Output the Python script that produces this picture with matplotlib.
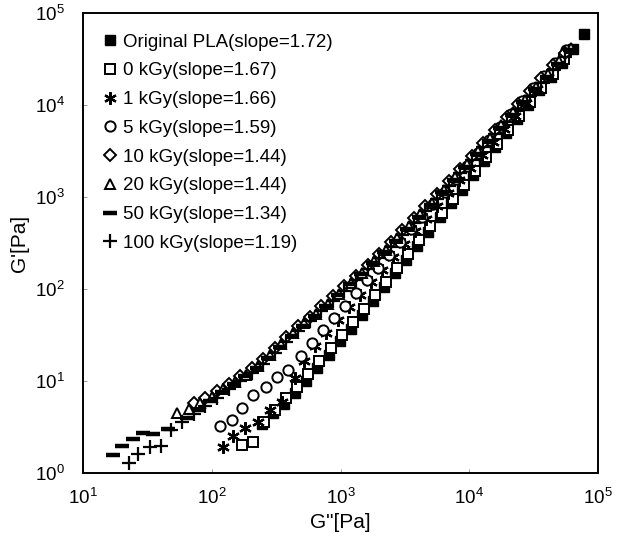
import matplotlib
matplotlib.use("Agg")
import matplotlib.pyplot as plt

plt.rcParams['font.family'] = ['Liberation Sans', 'DejaVu Sans']
plt.rcParams['mathtext.fontset'] = 'custom'
plt.rcParams['mathtext.rm'] = 'Liberation Sans'
plt.rcParams['mathtext.it'] = 'Liberation Sans'

# Han plot data: loss modulus G'' (x) vs storage modulus G' (y), Pa
pla_g2 = [245, 299, 365, 446, 543, 662, 807, 984, 1202, 1466, 1786, 2178, 2655, 3243, 3954,
          4819, 5875, 7161, 8750, 10670, 13000, 15850, 19360, 23600, 28770, 35080, 42760, 52240, 63680, 77620]
pla_g1 = [3.39, 4.47, 5.62, 7.41, 10.0, 13.8, 19.1, 26.9, 37.2, 52.5, 74.1, 105, 148, 209, 295,
          417, 603, 851, 1202, 1738, 2455, 3467, 5012, 7079, 10000, 14450, 20420, 28840, 40740, 58880]

k0_g2 = [171, 208, 254, 310, 378, 461, 562, 686, 837, 1020, 1245, 1517, 1850, 2260, 2754,
         3357, 4093, 4990, 6095, 7430, 9060, 11040, 13490, 16440, 20050, 24430, 29790, 36390, 44360, 54080]
k0_g1 = [2.0, 2.19, 3.55, 4.90, 6.46, 8.71, 12.0, 16.6, 22.9, 31.6, 43.7, 60.3, 85.1, 120, 170,
         240, 339, 479, 676, 955, 1349, 1905, 2692, 3802, 5370, 7586, 10720, 15490, 21880, 31620]

k1_g2 = [122, 146, 180, 227, 282, 349, 440, 525, 638, 778, 948, 1156, 1409, 1718, 2094, 2553,
         3112, 3793, 4624, 5636, 6871, 8375, 10210, 12450, 15170, 18490, 22540, 27480, 33500, 40830, 49770, 60670]
k1_g1 = [1.9, 2.5, 3.1, 3.6, 4.8, 5.9, 10.7, 16.6, 24.0, 33.1, 45.7, 63.1, 87.1, 120, 162, 224,
         309, 427, 575, 794, 1096, 1514, 2089, 2884, 3981, 5495, 7586, 10470, 14790, 20420, 28180, 39810]

k5_g2 = [115, 143, 171, 208, 262, 319, 388, 490, 597, 728, 887, 1081, 1318, 1607, 1959, 2388,
         2911, 3548, 4325, 5272, 6427, 7834, 9550, 11640, 14190, 17300, 21090, 25700, 31330, 38190, 46560, 56750]
k5_g1 = [3.24, 3.8, 5.1, 7.1, 8.7, 11.0, 13.2, 18.6, 25.7, 35.5, 47.9, 66.1, 91.2, 126, 170, 234,
         324, 447, 603, 832, 1148, 1585, 2188, 3020, 4169, 5754, 7943, 10960, 15140, 20890, 28840, 39810]

k10_g2 = [72.4, 89.1, 110, 135, 166, 204, 251, 309, 380, 468, 575, 708, 871, 1072, 1318, 1622, 1995,
          2455, 3020, 3715, 4571, 5623, 6918, 8511, 10470, 12880, 15850, 19500, 23990, 29510, 36310, 44670, 54950]
k10_g1 = [5.75, 6.61, 7.76, 9.33, 11.2, 13.8, 17.4, 22.9, 30.2, 39.8, 50.1, 66.1, 83.2, 107, 138, 182, 240,
          324, 437, 589, 794, 1072, 1479, 2042, 2818, 3890, 5370, 7413, 10230, 14130, 19500, 26920, 37150]

k20_g2 = [53.7, 66.1, 81.3, 100, 123, 151, 186, 229, 282, 347, 427, 525, 646, 794, 977, 1202, 1479, 1820,
          2239, 2754, 3388, 4169, 5129, 6310, 7762, 9550, 11750, 14450, 17780, 21880, 26920, 33110, 40740, 50120, 61660]
k20_g1 = [4.47, 5.01, 5.75, 6.76, 8.13, 9.77, 11.7, 14.5, 19.1, 25.1, 33.1, 42.7, 53.7, 69.2, 89.1, 115, 151, 200,
          263, 355, 479, 646, 871, 1202, 1660, 2291, 3162, 4365, 6026, 8318, 11480, 15850, 21880, 30200, 41690]

k50_g2 = [17.0, 20.0, 24.5, 29.5, 34.7, 45.7, 64.6, 79.4, 97.7, 120, 148, 182, 224, 275, 339, 417, 513, 631, 776, 955,
          1175, 1445, 1778, 2188, 2692, 3311, 4074, 5012, 6166, 7586, 9333, 11480, 14130, 17380, 21380, 26300, 32360,
          39810, 48980, 60260]
k50_g1 = [1.55, 1.95, 2.34, 2.75, 2.63, 3.02, 3.98, 4.90, 6.03, 7.59, 9.33, 11.2, 13.8, 17.8, 23.4, 30.9, 39.8, 51.3,
          66.1, 85.1, 112, 145, 191, 251, 331, 447, 603, 813, 1122, 1549, 2138, 2951, 4074, 5623, 7762, 10720, 14790,
          20420, 28180, 39810]

k100_g2 = [22.9, 26.9, 33.1, 40.7, 47.9, 58.9, 72.4, 89.1, 110, 135, 166, 204, 251, 309, 380, 468, 575, 708, 871,
           1072, 1318, 1622, 1995, 2455, 3020, 3715, 4571, 5623, 6918, 8511, 10470, 12880, 15850, 19500, 23990, 29510,
           36310, 44670, 54950]
k100_g1 = [1.29, 1.62, 1.91, 1.95, 2.95, 3.63, 4.37, 5.37, 6.61, 8.13, 10.0, 12.3, 15.5, 20.0, 26.3, 34.7, 44.7, 57.5,
           74.1, 95.5, 126, 166, 219, 288, 389, 525, 708, 955, 1318, 1820, 2512, 3467, 4786, 6607, 9120, 12590, 17380,
           23990, 33110]

labels = ["Original PLA(slope=1.72)", "0 kGy(slope=1.67)", "1 kGy(slope=1.66)", "5 kGy(slope=1.59)",
          "10 kGy(slope=1.44)", "20 kGy(slope=1.44)", "50 kGy(slope=1.34)", "100 kGy(slope=1.19)"]

series = [
    (pla_g2, pla_g1, dict(marker='s', mfc='black', mec='black', ms=6.6)),
    (k0_g2, k0_g1, dict(marker='s', mfc='white', mec='black', ms=6.6, mew=1.4)),
    (k1_g2, k1_g1, dict(marker=(6, 2, 0), mfc='black', mec='black', ms=9, mew=1.6)),
    (k5_g2, k5_g1, dict(marker='o', mfc='white', mec='black', ms=7.4, mew=1.4)),
    (k10_g2, k10_g1, dict(marker='D', mfc='white', mec='black', ms=5.8, mew=1.4)),
    (k20_g2, k20_g1, dict(marker='^', mfc='white', mec='black', ms=7.8, mew=1.4)),
    (k50_g2, k50_g1, dict(marker='_', mfc='black', mec='black', ms=10, mew=3.2)),
    (k100_g2, k100_g1, dict(marker='+', mfc='black', mec='black', ms=9.5, mew=1.6)),
]

fig = plt.figure(figsize=(6.26, 5.44), dpi=100)
ax = fig.add_axes([0.1326, 0.1305, 0.8227, 0.8455])

for (gx, gy, style), lab in zip(series, labels):
    ax.plot(gx, gy, linestyle='none', label=lab, **style)

ax.set_xscale('log')
ax.set_yscale('log')
ax.set_xlim(1e1, 1e5)
ax.set_ylim(1e0, 1e5)
ax.minorticks_off()
ax.tick_params(which='major', direction='in', length=3, width=0.6, color='#888888',
               labelsize=13.5)
ax.tick_params(axis='x', pad=11)
ax.tick_params(axis='y', pad=13)
for sp in ax.spines.values():
    sp.set_linewidth(1.4)

ax.set_xlabel('G"[Pa]', fontsize=15, labelpad=3)
ax.set_ylabel("G'[Pa]", fontsize=15, labelpad=4)

leg = ax.legend(loc='upper left', frameon=False, fontsize=13.5, handlelength=0.6,
                handletextpad=0.4, labelspacing=0.62, borderaxespad=0.2,
                bbox_to_anchor=(0.02, 0.98))

fig.savefig('out.png', dpi=100)
